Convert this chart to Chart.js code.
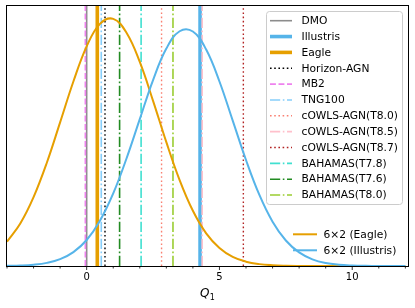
<!DOCTYPE html>
<html><head><meta charset="utf-8">
<script src="https://cdn.jsdelivr.net/npm/chart.js@4/dist/chart.umd.min.js"></script>
<style>html,body{margin:0;padding:0;background:#fff}canvas{display:block}</style>
</head><body>
<canvas id="c" width="415" height="308"></canvas>
<script>
// ---- data ----
const qGrid = [-3, -2.5, -2, -1.5, -1, -0.5, 0, 0.5, 1, 1.5, 2, 2.5, 3, 3.5, 4, 4.5, 5, 5.5, 6, 6.5, 7, 7.5, 8, 8.5, 9, 9.5, 10, 10.5, 11, 11.5, 12];
const eagleCurve = [0.098, 0.1715, 0.278, 0.417, 0.580, 0.745, 0.887, 0.978, 0.998, 0.942, 0.824, 0.667, 0.500, 0.347, 0.223, 0.132, 0.073, 0.037, 0.0175, 0.0076, 0.0031, 0.0012, 0.0004, 0.0001, 0, 0, 0, 0, 0, 0, 0];
const illustrisCurve = [0.0007, 0.002, 0.0053, 0.0126, 0.0276, 0.0561, 0.105, 0.183, 0.293, 0.434, 0.593, 0.751, 0.878, 0.948, 0.947, 0.874, 0.745, 0.587, 0.428, 0.288, 0.179, 0.103, 0.055, 0.027, 0.012, 0.005, 0.002, 0.0007, 0.0002, 0.0001, 0];
const simNames = ['DMO', 'Illustris', 'Eagle', 'Horizon-AGN', 'MB2', 'TNG100', 'cOWLS-AGN(T8.0)', 'cOWLS-AGN(T8.5)', 'cOWLS-AGN(T8.7)', 'BAHAMAS(T7.8)', 'BAHAMAS(T7.6)', 'BAHAMAS(T8.0)'];
const simQ1 = [0.0, 4.27, 0.40, 0.69, -0.05, 0.55, 2.82, 4.35, 5.90, 2.05, 1.24, 3.25];
const curveNames = ['6×2 (Eagle)', '6×2 (Illustris)'];
const majorTicks = [0, 5, 10];
const axisTitle = ['Q', '1'];

// ---- styles ----
const DOT = [1.6, 2.6], DASH = [5.9, 2.6], DASHDOT = [10.2, 2.6, 1.6, 2.6];
const simColors = ['#8c8c8c', '#56B4E9', '#E69F00', '#000000', '#EE82EE', '#87CEFA', '#FA8072', '#FFC0CB', '#B22222', '#40E0D0', '#228B22', '#9ACD32'];
const simWidths = [1.6, 3.6, 3.6, 1.4, 1.6, 1.6, 1.4, 1.6, 1.4, 1.6, 1.6, 1.6];
const simDash = [[], [], [], DOT, DASH, DASHDOT, DOT, DASHDOT, DOT, DASHDOT, DASHDOT, DASHDOT];
const curveColors = ['#E69F00', '#56B4E9'];
const Y_MAX = 1.05;
const FONT = 'DejaVu Sans';

const datasets = [];
simNames.forEach((name, i) => {
  datasets.push({
    label: name,
    data: [{x: simQ1[i], y: 0}, {x: simQ1[i], y: Y_MAX}],
    borderColor: simColors[i], borderWidth: simWidths[i], borderDash: simDash[i],
    pointRadius: 0, tension: 0, legendGroup: 1, order: 100 - i
  });
});
[eagleCurve, illustrisCurve].forEach((arr, k) => {
  datasets.push({
    label: curveNames[k],
    data: qGrid.map((q, j) => ({x: q, y: arr[j]})),
    borderColor: curveColors[k], borderWidth: 2, borderDash: [],
    pointRadius: 0, tension: 0.4, legendGroup: 2, order: 2 - k
  });
});

const decor = {
  id: 'decor',
  afterDraw(chart) {
    const ctx = chart.ctx, a = chart.chartArea, xs = chart.scales.x;
    ctx.save();
    // spines
    ctx.strokeStyle = '#000'; ctx.lineWidth = 1; ctx.setLineDash([]);
    ctx.strokeRect(Math.round(a.left) - 0.5, Math.round(a.top) - 0.5, Math.round(a.right - a.left) + 1, Math.round(a.bottom - a.top) + 1);
    // ticks
    ctx.lineWidth = 0.8;
    xs.ticks.forEach(t => {
      const px = xs.getPixelForValue(t.value);
      const len = majorTicks.includes(t.value) ? 3.5 : 2;
      ctx.beginPath(); ctx.moveTo(px, a.bottom + 0.5); ctx.lineTo(px, a.bottom + 0.5 + len); ctx.stroke();
    });
    // axis title
    ctx.fillStyle = '#000';
    ctx.textBaseline = 'alphabetic';
    ctx.font = 'italic 12px "' + FONT + '"';
    const qw = ctx.measureText(axisTitle[0]).width;
    ctx.font = '8px "' + FONT + '"';
    const sw = ctx.measureText(axisTitle[1]).width;
    const x0 = (a.left + a.right) / 2 - (qw + sw + 0.5) / 2;
    ctx.font = 'italic 12px "' + FONT + '"';
    ctx.textAlign = 'left';
    ctx.fillText(axisTitle[0], x0, 297);
    ctx.font = '8px "' + FONT + '"';
    ctx.fillText(axisTitle[1], x0 + qw + 0.3, 299.5);

    // legends
    const drawEntries = (group, x0h, x1h, xt, y0, dy) => {
      const ds = chart.data.datasets.filter(d => d.legendGroup === group);
      ds.forEach((d, i) => {
        const y = y0 + i * dy;
        ctx.strokeStyle = d.borderColor; ctx.lineWidth = d.borderWidth;
        ctx.setLineDash(d.borderDash || []);
        ctx.beginPath(); ctx.moveTo(x0h, y); ctx.lineTo(x1h, y); ctx.stroke();
        ctx.setLineDash([]);
        ctx.fillStyle = '#000';
        ctx.font = '10.7px "' + FONT + '"';
        ctx.textAlign = 'left'; ctx.textBaseline = 'middle';
        ctx.fillText(d.label, xt, y + 0.5);
      });
    };
    // frame for legend 1
    const fx = 266.5, fy = 11.5, fw = 136, fh = 193, r = 3;
    ctx.beginPath();
    ctx.moveTo(fx + r, fy); ctx.lineTo(fx + fw - r, fy); ctx.quadraticCurveTo(fx + fw, fy, fx + fw, fy + r);
    ctx.lineTo(fx + fw, fy + fh - r); ctx.quadraticCurveTo(fx + fw, fy + fh, fx + fw - r, fy + fh);
    ctx.lineTo(fx + r, fy + fh); ctx.quadraticCurveTo(fx, fy + fh, fx, fy + fh - r);
    ctx.lineTo(fx, fy + r); ctx.quadraticCurveTo(fx, fy, fx + r, fy);
    ctx.closePath();
    ctx.fillStyle = 'rgba(255,255,255,0.8)'; ctx.fill();
    ctx.strokeStyle = '#cccccc'; ctx.lineWidth = 1; ctx.stroke();
    drawEntries(1, 270, 292, 301.5, 20.7, 15.85);
    drawEntries(2, 293, 317, 323.5, 234.3, 16);
    ctx.restore();
  }
};

new Chart(document.getElementById('c'), {
  type: 'line',
  data: {datasets},
  options: {
    responsive: false, devicePixelRatio: 1, animation: false,
    layout: {padding: {left: 7, right: 7, top: 6, bottom: 0}},
    plugins: {legend: {display: false}, tooltip: {enabled: false}},
    scales: {
      x: {
        type: 'linear', min: -3, max: 12.1,
        ticks: {
          stepSize: 1, includeBounds: false, autoSkip: false, maxRotation: 0, minRotation: 0,
          padding: 5, color: '#000', font: {family: FONT, size: 10},
          callback: v => majorTicks.includes(v) ? String(v) : ''
        },
        grid: {display: false, drawTicks: false},
        border: {display: false},
        afterFit: s => { s.height = 42; }
      },
      y: {display: false, min: 0, max: Y_MAX}
    }
  },
  plugins: [decor]
});
</script>
</body></html>
